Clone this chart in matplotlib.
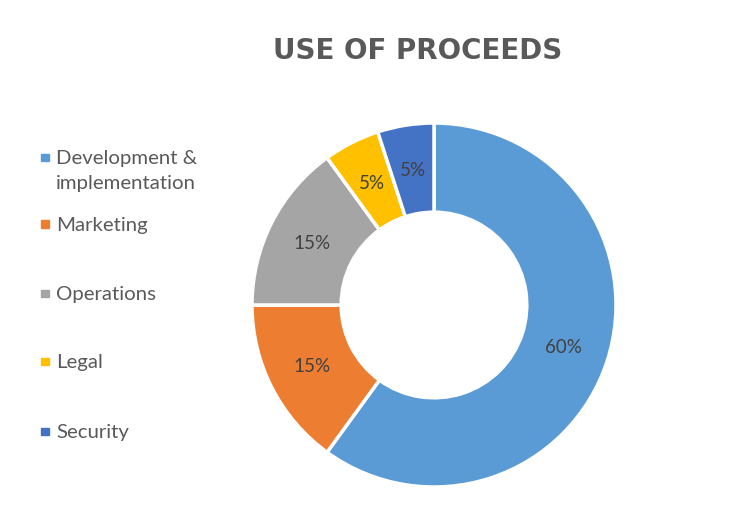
import matplotlib.pyplot as plt
from matplotlib.patches import Rectangle

categories = ["Development &\nimplementation", "Marketing", "Operations", "Legal", "Security"]
shares = [60, 15, 15, 5, 5]
colors = ["#5B9BD5", "#ED7D31", "#A5A5A5", "#FFC000", "#4472C4"]

fig = plt.figure(figsize=(7.36, 5.31), dpi=100)

# donut: centre ~(434,305) px, outer radius ~182 px
ax = fig.add_axes([(434 - 182) / 736, (531 - 305 - 182) / 531, 364 / 736, 364 / 531])
wedges, texts, autotexts = ax.pie(
    shares, colors=colors, startangle=90, counterclock=False, radius=1,
    autopct="%d%%", pctdistance=0.75,
    wedgeprops=dict(width=0.49, edgecolor="white", linewidth=2.5),
    textprops=dict(fontsize=13.5, color="#404040", family="Lato"))
ax.set_xlim(-1, 1)
ax.set_ylim(-1, 1)
ax.set_aspect("equal")

fig.text(418 / 736, 1 - 51 / 531, "USE OF PROCEEDS", ha="center", va="center",
         fontsize=20, fontweight="bold", color="#595959", family="DejaVu Sans")

# legend on the left
ys = [157, 224, 293, 361, 431]
for name, col, y in zip(categories, colors, ys):
    fig.patches.append(Rectangle((41 / 736, 1 - (y + 4) / 531), 7.5 / 736, 7.5 / 531,
                                 transform=fig.transFigure, color=col))
    fig.text(56 / 736, 1 - (y - 7) / 531, name, ha="left", va="top",
             fontsize=14.7, color="#595959", family="Lato", linespacing=1.6)

fig.savefig("out.png", dpi=100)
